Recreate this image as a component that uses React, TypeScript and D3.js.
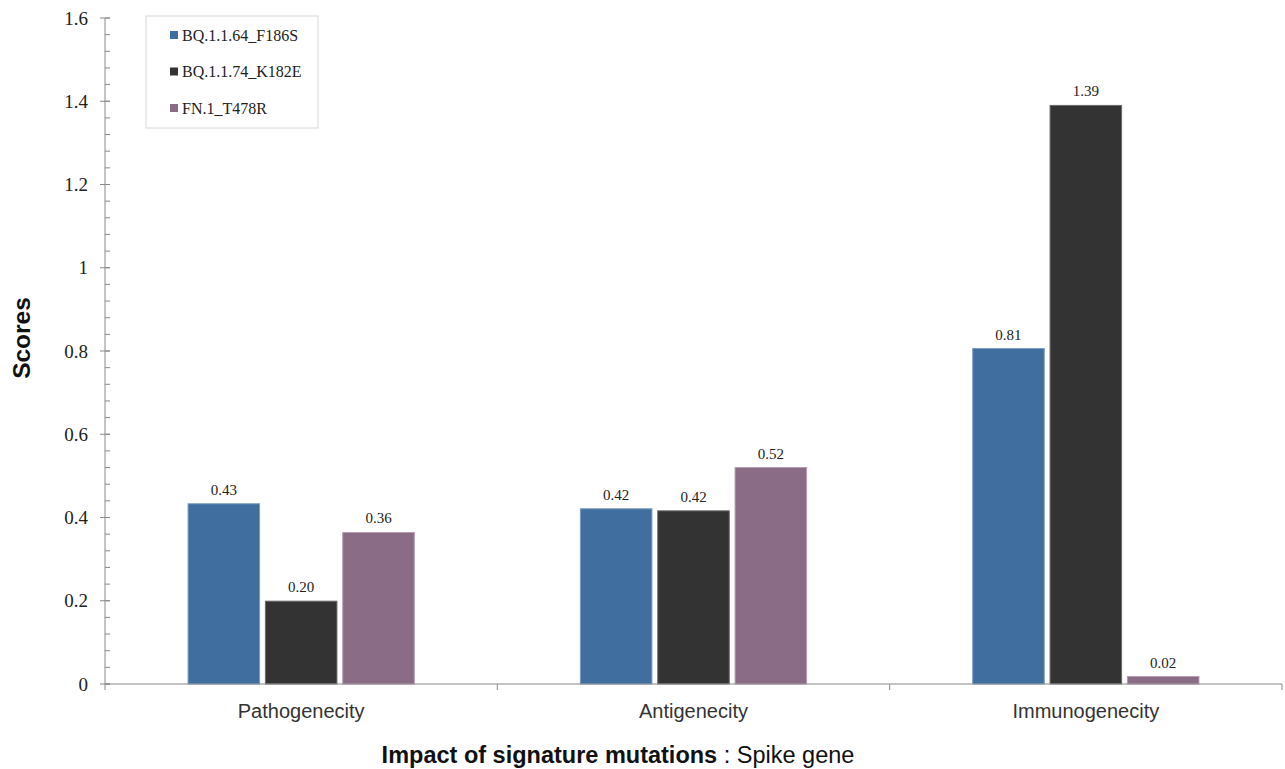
import { useEffect, useRef } from "react";
import * as d3 from "d3";

const categories = ["Pathogenecity", "Antigenecity", "Immunogenecity"];
const seriesNames = ["BQ.1.1.64_F186S", "BQ.1.1.74_K182E", "FN.1_T478R"];
const seriesColors = ["#3f6e9f", "#333333", "#8a6c87"];
const strokeColors = ["#7d9cc0", "#6a6a6a", "#b49cb2"];
// values per series, in category order
const blueValues = [0.433, 0.421, 0.806];
const blackValues = [0.199, 0.416, 1.39];
const purpleValues = [0.364, 0.52, 0.018];
const yTicks = [0, 0.2, 0.4, 0.6, 0.8, 1, 1.2, 1.4, 1.6];

const W = 1285;
const H = 769;
const margin = { top: 18, right: 3, bottom: 85, left: 105 };

export default function App() {
  const ref = useRef<SVGSVGElement>(null);

  useEffect(() => {
    const svg = d3.select(ref.current);
    svg.selectAll("*").remove();

    const innerW = W - margin.left - margin.right;
    const innerH = H - margin.top - margin.bottom;
    const g = svg
      .append("g")
      .attr("transform", `translate(${margin.left},${margin.top})`);

    const x = d3.scaleBand().domain(categories).range([0, innerW]).padding(0);
    const inner = d3
      .scaleBand()
      .domain(seriesNames)
      .range([x.bandwidth() * 0.2117, x.bandwidth() * 0.7883])
      .paddingInner(0.075);
    const y = d3.scaleLinear().domain([0, 1.6]).range([innerH, 0]);

    const allSeries = [blueValues, blackValues, purpleValues];

    // y axis with minor ticks
    const axisColor = "#8a8a8a";
    const minor = d3.range(0, 1.6001, 0.04);
    g.selectAll(".minor")
      .data(minor)
      .join("line")
      .attr("x1", 0)
      .attr("x2", 5)
      .attr("y1", (d) => y(d))
      .attr("y2", (d) => y(d))
      .attr("stroke", axisColor);
    g.selectAll(".major")
      .data(yTicks)
      .join("line")
      .attr("x1", -5)
      .attr("x2", 5)
      .attr("y1", (d) => y(d))
      .attr("y2", (d) => y(d))
      .attr("stroke", axisColor);
    g.append("line")
      .attr("x1", 0)
      .attr("x2", 0)
      .attr("y1", 0)
      .attr("y2", innerH)
      .attr("stroke", axisColor);
    g.selectAll(".ylab")
      .data(yTicks)
      .join("text")
      .attr("x", -17)
      .attr("y", (d) => y(d))
      .attr("dy", "0.35em")
      .attr("text-anchor", "end")
      .attr("font-family", "Liberation Serif, serif")
      .attr("font-size", 19)
      .attr("fill", "#222")
      .text((d) => d3.format("")(d));

    // bars
    allSeries.forEach((vals, si) => {
      g.selectAll(`.bar${si}`)
        .data(vals)
        .join("rect")
        .attr("x", (_, i) => x(categories[i])! + inner(seriesNames[si])!)
        .attr("y", (d) => y(d))
        .attr("width", inner.bandwidth())
        .attr("height", (d) => innerH - y(d))
        .attr("fill", seriesColors[si])
        .attr("stroke", strokeColors[si])
        .attr("stroke-width", 1);
      g.selectAll(`.val${si}`)
        .data(vals)
        .join("text")
        .attr(
          "x",
          (_, i) =>
            x(categories[i])! + inner(seriesNames[si])! + inner.bandwidth() / 2
        )
        .attr("y", (d) => y(d) - 9)
        .attr("text-anchor", "middle")
        .attr("font-family", "Liberation Serif, serif")
        .attr("font-size", 15)
        .attr("fill", "#222")
        .text((d) => d3.format(".2f")(d));
    });

    // x axis
    g.append("line")
      .attr("x1", 0)
      .attr("x2", innerW)
      .attr("y1", innerH)
      .attr("y2", innerH)
      .attr("stroke", axisColor);
    const xTickPos = [0, ...categories.map((c) => x(c)! + x.bandwidth())];
    g.selectAll(".xtick")
      .data(xTickPos)
      .join("line")
      .attr("x1", (d) => d)
      .attr("x2", (d) => d)
      .attr("y1", innerH)
      .attr("y2", innerH + 6)
      .attr("stroke", axisColor);
    g.selectAll(".xlab")
      .data(categories)
      .join("text")
      .attr("x", (d) => x(d)! + x.bandwidth() / 2)
      .attr("y", innerH + 34)
      .attr("text-anchor", "middle")
      .attr("font-family", "Liberation Sans, Arial, sans-serif")
      .attr("font-size", 20)
      .attr("fill", "#333")
      .text((d) => d);

    // axis titles
    const title = svg
      .append("text")
      .attr("x", 618)
      .attr("y", 763)
      .attr("text-anchor", "middle")
      .attr("font-family", "Liberation Sans, Arial, sans-serif")
      .attr("font-size", 23.5)
      .attr("fill", "#111");
    title.append("tspan").attr("font-weight", "bold").text("Impact of signature mutations");
    title.append("tspan").text(" : Spike gene");

    svg
      .append("text")
      .attr("transform", "translate(30,338) rotate(-90)")
      .attr("text-anchor", "middle")
      .attr("font-family", "Liberation Sans, Arial, sans-serif")
      .attr("font-size", 24.5)
      .attr("font-weight", "bold")
      .attr("fill", "#111")
      .text("Scores");

    // legend
    const lg = svg.append("g").attr("transform", "translate(146,16)");
    lg.append("rect")
      .attr("width", 172)
      .attr("height", 112)
      .attr("fill", "#fff")
      .attr("stroke", "#d8d8d8");
    seriesNames.forEach((name, i) => {
      const cy = 19 + i * 36.5;
      lg.append("rect")
        .attr("x", 24)
        .attr("y", cy - 4)
        .attr("width", 8)
        .attr("height", 8)
        .attr("fill", seriesColors[i]);
      lg.append("text")
        .attr("x", 36)
        .attr("y", cy)
        .attr("dy", "0.35em")
        .attr("font-family", "Liberation Serif, serif")
        .attr("font-size", 16)
        .attr("fill", "#222")
        .text(name);
    });
  }, []);

  return (
    <div style={{ position: "absolute", left: 0, top: 0 }}>
      <svg ref={ref} width={W} height={H} style={{ display: "block", background: "#fff" }} />
    </div>
  );
}
